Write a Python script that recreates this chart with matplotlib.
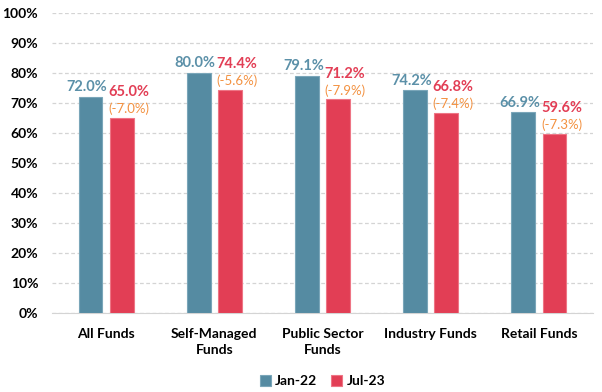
import numpy as np
import matplotlib.pyplot as plt
from matplotlib.ticker import PercentFormatter

plt.rcParams['font.family'] = ['Lato', 'DejaVu Sans']

categories = ['All Funds', 'Self-Managed\nFunds', 'Public Sector\nFunds', 'Industry Funds', 'Retail Funds']
jan22 = [72.0, 80.0, 79.1, 74.2, 66.9]
jul23 = [65.0, 74.4, 71.2, 66.8, 59.6]
changes = ['(-7.0%)', '(-5.6%)', '(-7.9%)', '(-7.4%)', '(-7.3%)']

blue = '#558ba2'
red = '#e23e55'
orange = '#f39140'

fig = plt.figure(figsize=(6.02, 3.92), dpi=100)
ax = fig.add_axes([52 / 602, 79 / 392, 541 / 602, 300 / 392])

x = np.arange(len(categories))
w = 0.22
off = 0.145
ax.bar(x - off, jan22, w, color=blue, edgecolor='#7aa6b9', linewidth=0.8, label='Jan-22', zorder=3)
ax.bar(x + off, jul23, w, color=red, edgecolor='#ee7585', linewidth=0.8, label='Jul-23', zorder=3)

for i in range(len(categories)):
    ax.annotate(f'{jan22[i]:.1f}%', (x[i] - off, jan22[i]), xytext=(-2.5, 2),
                textcoords='offset points', ha='center', va='bottom',
                color='#5b90a8', fontsize=10.5, fontweight='bold')
    ax.annotate(changes[i], (x[i] + off, jul23[i]), xytext=(5, 2),
                textcoords='offset points', ha='center', va='bottom',
                color=orange, fontsize=9.5)
    ax.annotate(f'{jul23[i]:.1f}%', (x[i] + off, jul23[i]), xytext=(5, 13.5),
                textcoords='offset points', ha='center', va='bottom',
                color=red, fontsize=10.5, fontweight='bold')

ax.set_xlim(-0.5, len(categories) - 0.5)
ax.set_ylim(0, 100)
ax.set_yticks(np.arange(0, 101, 10))
ax.yaxis.set_major_formatter(PercentFormatter(decimals=0))
ax.set_xticks(x)
ax.set_xticklabels(categories, fontsize=10, fontweight='bold', linespacing=1.35)
for lab in ax.get_yticklabels():
    lab.set_fontweight('bold')
    lab.set_fontsize(10)
ax.tick_params(axis='x', length=0, pad=11)
ax.tick_params(axis='y', length=0, pad=10)
ax.grid(axis='y', color='#d4d4d4', linestyle=(0, (3, 2)), linewidth=0.9, zorder=0)
for s in ['top', 'right', 'left']:
    ax.spines[s].set_visible(False)
ax.spines['bottom'].set_color('#d4d4d4')

ax.legend(loc='upper center', bbox_to_anchor=(0.5, -0.165), ncol=2, frameon=False,
          prop={'weight': 'bold', 'size': 10}, handlelength=0.8, handleheight=0.8,
          handletextpad=0.3, columnspacing=1.0)

fig.savefig('out.png', dpi=100)
